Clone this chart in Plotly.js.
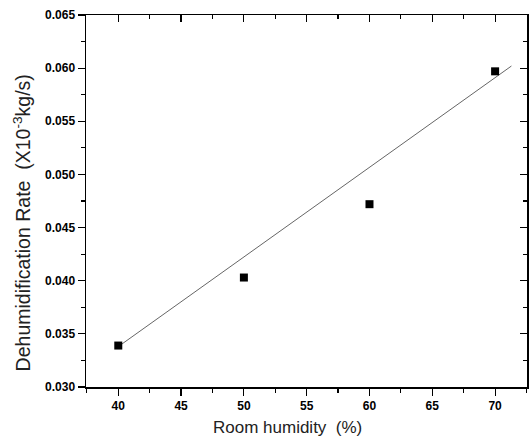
<!DOCTYPE html>
<html>
<head>
<meta charset="utf-8">
<script src="https://cdn.plot.ly/plotly-3.0.1.min.js"></script>
<style>html,body{margin:0;padding:0;background:#fff;}#chart{width:529px;height:444px;}</style>
</head>
<body>
<div id="chart"></div>
<script>
const humidity = [40, 50, 60, 70];
const dehumRate = [0.0339, 0.0403, 0.0472, 0.0597];
const fitX = [40, 71.3];
const fitY = [0.0338, 0.0602];
const xRange = [37.43, 72.54];
const yRange = [0.030, 0.065];
const xTitle = 'Room humidity&nbsp;&nbsp;(%)';
const yTitle = 'Dehumidification Rate&nbsp;&nbsp;(X10<sup>-3</sup>kg/s)';

const font = 'Arial, "Liberation Sans", sans-serif';

const traces = [
  {x: fitX, y: fitY, mode: 'lines', type: 'scatter',
   line: {color: '#666666', width: 1}, hoverinfo: 'skip', showlegend: false},
  {x: humidity, y: dehumRate, mode: 'markers', type: 'scatter',
   marker: {symbol: 'square', size: 8, color: '#000'}, showlegend: false},
  {x: [xRange[0]], y: [yRange[0]], xaxis: 'x2', yaxis: 'y2', mode: 'markers',
   marker: {opacity: 0}, hoverinfo: 'skip', showlegend: false}
];

const tickFont = {size: 12, color: '#000', family: font, weight: 'bold'};

const layout = {
  width: 529, height: 444,
  margin: {l: 86, r: 2, t: 15, b: 57, pad: 0},
  paper_bgcolor: '#fff', plot_bgcolor: '#fff',
  font: {family: font, color: '#000'},
  xaxis: {
    range: xRange, dtick: 5, tick0: 40,
    ticks: 'outside', ticklen: 7, tickwidth: 1.2, tickcolor: '#000',
    minor: {dtick: 2.5, tick0: 40, ticks: 'outside', ticklen: 4, tickcolor: '#000', tickwidth: 1.2},
    showline: true, linecolor: '#000', linewidth: 1.5,
    showgrid: false, zeroline: false,
    tickfont: tickFont
  },
  yaxis: {
    range: yRange, dtick: 0.005, tick0: 0.03, tickformat: '.3f',
    ticks: 'outside', ticklen: 7, tickwidth: 1.2, tickcolor: '#000',
    minor: {dtick: 0.0025, tick0: 0.03, ticks: 'outside', ticklen: 4, tickcolor: '#000', tickwidth: 1.2},
    showline: true, linecolor: '#000', linewidth: 1.5,
    showgrid: false, zeroline: false,
    tickfont: tickFont
  },
  xaxis2: {
    overlaying: 'x', side: 'top', range: xRange, dtick: 5, tick0: 40,
    ticks: 'inside', ticklen: 7, tickwidth: 1.2, tickcolor: '#000',
    minor: {dtick: 2.5, tick0: 40, ticks: 'inside', ticklen: 4, tickcolor: '#000', tickwidth: 1.2},
    showticklabels: false, showline: true, linecolor: '#000', linewidth: 1.5,
    showgrid: false, zeroline: false
  },
  yaxis2: {
    overlaying: 'y', side: 'right', range: yRange, dtick: 0.005, tick0: 0.03,
    ticks: 'inside', ticklen: 7, tickwidth: 1.2, tickcolor: '#000',
    minor: {dtick: 0.0025, tick0: 0.03, ticks: 'inside', ticklen: 4, tickcolor: '#000', tickwidth: 1.2},
    showticklabels: false, showline: true, linecolor: '#000', linewidth: 1.5,
    showgrid: false, zeroline: false
  },
  annotations: [
    {text: xTitle, xref: 'paper', yref: 'paper', x: 0.457, y: 0, yshift: -40,
     xanchor: 'center', yanchor: 'middle', showarrow: false,
     font: {size: 17, color: '#222', family: font}},
    {text: yTitle, xref: 'paper', yref: 'paper', x: -0.145, y: 0.44, textangle: -90,
     xanchor: 'center', yanchor: 'middle', showarrow: false,
     font: {size: 19.5, color: '#222', family: font}}
  ]
};

Plotly.newPlot('chart', traces, layout, {staticPlot: true, displayModeBar: false});
</script>
</body>
</html>
